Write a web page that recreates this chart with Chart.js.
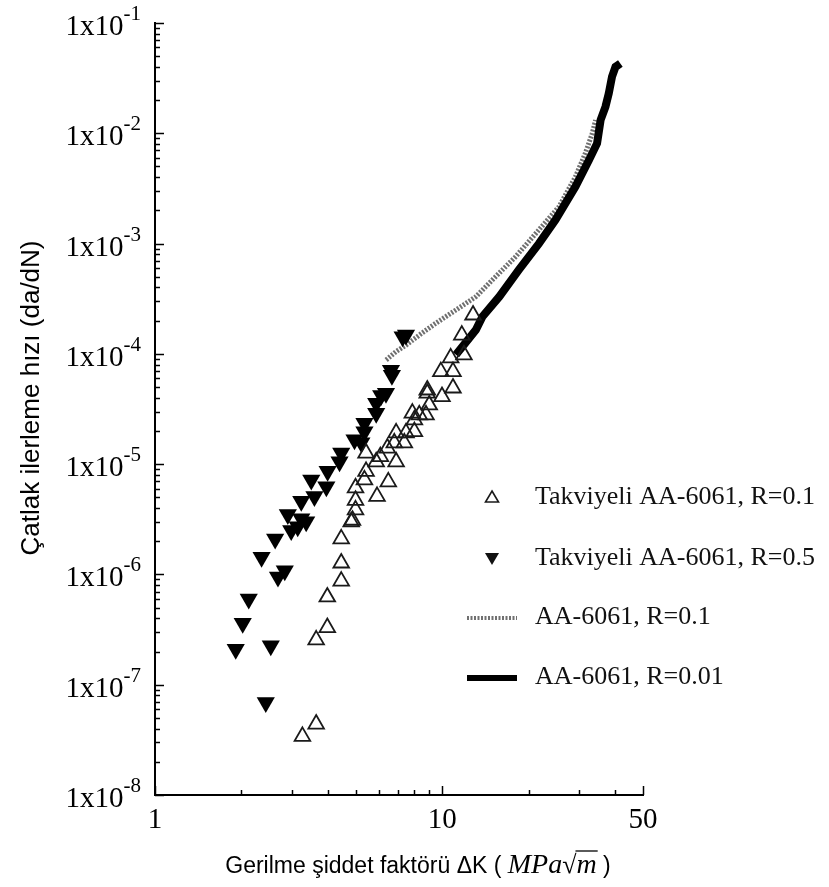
<!DOCTYPE html>
<html>
<head>
<meta charset="utf-8">
<title>Çatlak ilerleme hızı</title>
<script src="https://cdn.jsdelivr.net/npm/chart.js@4.4.1/dist/chart.umd.min.js"></script>
<style>
  body { margin: 0; background: #fff; }
  #wrap { width: 829px; height: 887px; }
</style>
</head>
<body>
<div id="wrap"><canvas id="crackChart" width="829" height="887"></canvas></div>
<script>
// Takviyeli AA-6061, R=0.1 (open triangles)
const reinf01K = [3.26, 3.64, 3.64, 3.98, 3.98, 4.45, 4.45, 4.45, 4.82, 4.87, 4.99, 4.99, 4.99, 5.36, 5.43,
  5.93, 6.49, 5.89, 6.09, 5.43, 6.91, 6.44, 6.81, 7.38, 6.91, 7.48, 8.0, 8.0, 7.87, 8.32, 8.78, 9.01,
  8.87, 8.87, 9.98, 10.9, 9.89, 10.9, 10.7, 11.9, 11.7, 12.8];
const reinf01Rate = [3.4e-8, 4.4e-8, 2.55e-7, 3.3e-7, 6.25e-7, 8.7e-7, 1.27e-6, 2.1e-6, 3.0e-6, 3.1e-6, 3.85e-6, 4.7e-6, 6.1e-6, 7.2e-6, 8.6e-6,
  5.1e-6, 6.9e-6, 1.05e-5, 1.17e-5, 1.26e-5, 1.05e-5, 1.4e-5, 1.56e-5, 1.56e-5, 1.92e-5, 1.92e-5, 1.97e-5, 2.52e-5, 2.9e-5, 2.8e-5, 2.8e-5, 3.44e-5,
  4.4e-5, 4.7e-5, 4.1e-5, 4.9e-5, 6.9e-5, 6.9e-5, 9.2e-5, 9.8e-5, 1.48e-4, 2.25e-4];

// Takviyeli AA-6061, R=0.5 (filled down triangles)
const reinf05K = [2.43, 1.91, 2.53, 2.02, 2.12, 2.68, 2.83, 2.35, 2.62, 2.98, 3.14, 3.36, 2.9, 3.23, 3.23,
  3.59, 3.5, 3.95, 3.99, 4.39, 4.45, 4.95, 5.23, 5.36, 5.36, 5.89, 5.89, 6.13, 6.37, 6.63, 6.68, 7.28, 7.48];
const reinf05Rate = [6.9e-8, 2.1e-7, 2.25e-7, 3.6e-7, 6.0e-7, 9.5e-7, 1.08e-6, 1.43e-6, 2.1e-6, 2.5e-6, 2.7e-6, 3.0e-6, 3.5e-6, 3.2e-6, 4.6e-6,
  5.1e-6, 7.2e-6, 6.25e-6, 8.6e-6, 1.05e-5, 1.26e-5, 1.66e-5, 1.56e-5, 1.97e-5, 2.35e-5, 2.9e-5, 3.56e-5, 4.2e-5, 4.4e-5, 7.1e-5, 6.4e-5, 1.43e-4, 1.48e-4];

// AA-6061, R=0.1 (grey line)
const base01K = [6.38, 6.91, 7.48, 8.52, 9.51, 11.16, 13.1, 14.56, 18.0, 21.7, 25.5, 29.1, 31.5, 33.3, 34.2];
const base01Rate = [8.8e-5, 1.05e-4, 1.2e-4, 1.55e-4, 1.9e-4, 2.5e-4, 3.3e-4, 4.37e-4, 7.6e-4, 1.33e-3, 2.16e-3, 4.04e-3, 6.6e-3, 1.0e-2, 1.32e-2];

// AA-6061, R=0.01 (black line)
const base001K = [11.16, 13.1, 13.8, 15.8, 18.5, 21.7, 24.8, 29.1, 32.4, 34.6, 35.6, 37.0, 38.0, 39.0, 40.1, 41.7];
const base001Rate = [9.8e-5, 1.65e-4, 2.17e-4, 3.3e-4, 5.8e-4, 1.0e-3, 1.64e-3, 3.28e-3, 5.7e-3, 8.1e-3, 1.32e-2, 1.74e-2, 2.3e-2, 3.26e-2, 4.0e-2, 4.3e-2];

// axis ticks
const xTickValues = [1, 2, 3, 4, 5, 6, 7, 8, 9, 10, 20, 30, 40, 50];
const xTickLabels = ['1', '10', '50'];
const yExponents = [-8, -7, -6, -5, -4, -3, -2, -1];

const yTickValues = [];
yExponents.forEach(e => {
    for (let m = 1; m <= 9; m++) {
        if (e === -1 && m > 1) break;
        yTickValues.push(m * Math.pow(10, e));
    }
});

function toPoints(xs, ys) {
    return xs.map((x, i) => ({ x: x, y: ys[i] }));
}

const serif = '"Liberation Serif", "Times New Roman", Times, serif';
const sans = '"Liberation Sans", Arial, Helvetica, sans-serif';

const axisDecor = {
    id: 'axisDecor',
    afterDraw(chart) {
        const ctx = chart.ctx;
        const xs = chart.scales.x;
        const ys = chart.scales.y;
        const area = chart.chartArea;
        ctx.save();
        ctx.strokeStyle = '#000';
        ctx.lineWidth = 1.5;

        // tick marks pointing into the plot
        xs.ticks.forEach(t => {
            const px = Math.round(xs.getPixelForValue(t.value)) + 0.5;
            const len = xTickLabels.includes(String(t.value)) ? 9 : 5;
            ctx.beginPath();
            ctx.moveTo(px, area.bottom);
            ctx.lineTo(px, area.bottom - len);
            ctx.stroke();
        });
        ys.ticks.forEach(t => {
            const py = Math.round(ys.getPixelForValue(t.value)) + 0.5;
            const lg = Math.log10(t.value);
            const len = Math.abs(lg - Math.round(lg)) < 1e-6 ? 9 : 5;
            ctx.beginPath();
            ctx.moveTo(area.left, py);
            ctx.lineTo(area.left + len, py);
            ctx.stroke();
        });

        // x tick labels
        ctx.fillStyle = '#000';
        ctx.font = '29px ' + serif;
        ctx.textAlign = 'center';
        ctx.textBaseline = 'alphabetic';
        xTickLabels.forEach(lbl => {
            ctx.fillText(lbl, xs.getPixelForValue(Number(lbl)), 829 - 1);
        });

        // y tick labels 1x10^n
        yExponents.forEach(e => {
            const py = ys.getPixelForValue(Math.pow(10, e));
            const sup = String(e);
            ctx.font = '21px ' + serif;
            const supW = ctx.measureText(sup).width;
            const right = 141;
            ctx.textAlign = 'left';
            ctx.fillText(sup, right - supW, py - 3);
            ctx.font = '29px ' + serif;
            ctx.textAlign = 'right';
            ctx.fillText('1x10', right - supW, py + 12);
        });

        // y axis title
        ctx.save();
        ctx.translate(32, 398);
        ctx.rotate(-Math.PI / 2);
        ctx.font = '26px ' + sans;
        ctx.textAlign = 'center';
        ctx.textBaseline = 'middle';
        ctx.fillText('Çatlak ilerleme hızı (da/dN)', 0, 0);
        ctx.restore();

        // x axis title with math part
        const parts = [
            { text: 'Gerilme şiddet faktörü ΔK ( ', font: '23px ' + sans },
            { text: 'MPa', font: 'italic 28px ' + serif },
            { text: '√', font: '26px ' + serif },
            { text: 'm', font: 'italic 28px ' + serif, bar: true },
            { text: ' )', font: '23px ' + sans }
        ];
        let total = 0;
        parts.forEach(p => {
            ctx.font = p.font;
            p.w = ctx.measureText(p.text).width;
            total += p.w;
        });
        let cx = 418 - total / 2;
        const base = 873;
        ctx.textAlign = 'left';
        parts.forEach(p => {
            ctx.font = p.font;
            ctx.fillText(p.text, cx, base);
            if (p.bar) {
                ctx.lineWidth = 1.3;
                ctx.beginPath();
                ctx.moveTo(cx - 1, base - 22);
                ctx.lineTo(cx + p.w + 1, base - 22);
                ctx.stroke();
            }
            cx += p.w;
        });
        ctx.restore();
    }
};

const legendBox = {
    id: 'legendBox',
    afterDraw(chart) {
        const ctx = chart.ctx;
        const ds = chart.data.datasets;
        const rows = [497, 558, 617, 677];
        const mx = 492;
        ctx.save();
        ctx.font = '26px ' + serif;
        ctx.fillStyle = '#111';
        ctx.textAlign = 'left';
        ctx.textBaseline = 'middle';
        ds.forEach((d, i) => {
            const y = rows[i];
            ctx.strokeStyle = d.borderColor;
            ctx.fillStyle = '#111';
            if (i === 0) {
                ctx.lineWidth = 1.6;
                ctx.beginPath();
                ctx.moveTo(mx, y - 6);
                ctx.lineTo(mx + 6.5, y + 5);
                ctx.lineTo(mx - 6.5, y + 5);
                ctx.closePath();
                ctx.stroke();
            } else if (i === 1) {
                ctx.beginPath();
                ctx.moveTo(mx, y + 7);
                ctx.lineTo(mx + 7, y - 5);
                ctx.lineTo(mx - 7, y - 5);
                ctx.closePath();
                ctx.fill();
            } else {
                ctx.lineWidth = i === 2 ? 4 : 6;
                ctx.setLineDash(d.borderDash || []);
                ctx.beginPath();
                ctx.moveTo(467, y + 1);
                ctx.lineTo(517, y + 1);
                ctx.stroke();
                ctx.setLineDash([]);
            }
            ctx.fillStyle = '#111';
            ctx.fillText(d.label, 535, y);
        });
        ctx.restore();
    }
};

const ctx = document.getElementById('crackChart').getContext('2d');
const crackChart = new Chart(ctx, {
    type: 'scatter',
    data: {
        datasets: [
            {
                label: 'Takviyeli AA-6061, R=0.1',
                data: toPoints(reinf01K, reinf01Rate),
                pointStyle: 'triangle',
                pointRadius: 9,
                borderWidth: 1.8,
                borderColor: '#1a1a1a',
                backgroundColor: 'rgba(0,0,0,0)',
                order: 1
            },
            {
                label: 'Takviyeli AA-6061, R=0.5',
                data: toPoints(reinf05K, reinf05Rate),
                pointStyle: 'triangle',
                pointRotation: 180,
                pointRadius: 10.5,
                borderWidth: 0,
                borderColor: '#000',
                backgroundColor: '#000',
                order: 2
            },
            {
                label: 'AA-6061, R=0.1',
                data: toPoints(base01K, base01Rate),
                showLine: true,
                pointRadius: 0,
                borderWidth: 5,
                borderColor: '#707070',
                borderDash: [2, 1.5],
                tension: 0,
                order: 4
            },
            {
                label: 'AA-6061, R=0.01',
                data: toPoints(base001K, base001Rate),
                showLine: true,
                pointRadius: 0,
                borderWidth: 8,
                borderColor: '#000',
                tension: 0,
                order: 3
            }
        ]
    },
    options: {
        responsive: false,
        animation: false,
        layout: {
            padding: { left: 0, right: 186, top: 23, bottom: 0 }
        },
        plugins: {
            legend: { display: false },
            tooltip: { enabled: false }
        },
        scales: {
            x: {
                type: 'logarithmic',
                position: 'bottom',
                min: 1,
                max: 50,
                grid: { display: false },
                border: { display: true, color: '#000', width: 2 },
                ticks: { display: false },
                afterBuildTicks: axis => { axis.ticks = xTickValues.map(v => ({ value: v })); },
                afterFit: axis => { axis.height = 92; }
            },
            y: {
                type: 'logarithmic',
                position: 'left',
                min: 1e-8,
                max: 1e-1,
                grid: { display: false },
                border: { display: true, color: '#000', width: 2 },
                ticks: { display: false },
                afterBuildTicks: axis => { axis.ticks = yTickValues.map(v => ({ value: v })); },
                afterFit: axis => { axis.width = 155; }
            }
        }
    },
    plugins: [axisDecor, legendBox]
});
</script>
</body>
</html>
